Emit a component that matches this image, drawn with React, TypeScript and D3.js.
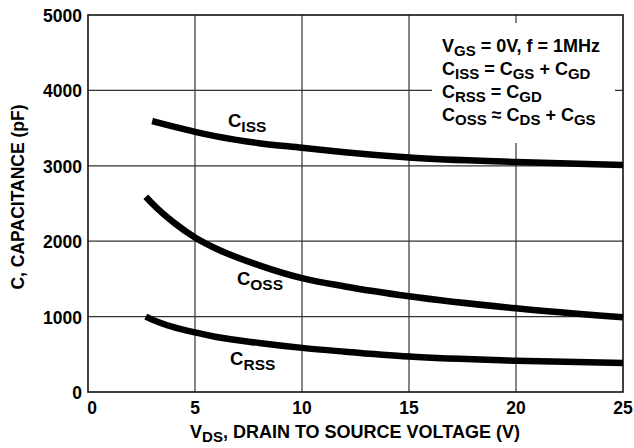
import { useEffect, useRef } from 'react';
import * as d3 from 'd3';

// V_DS (V) sample points
const vdsIss = [3, 4, 5, 6, 8, 10, 12, 15, 20, 25];
const ciss = [3594, 3520, 3450, 3390, 3300, 3240, 3180, 3110, 3050, 3010];

const vdsOss = [2.7, 3, 4, 5, 6, 8, 10, 12, 15, 20, 25];
const coss = [2590, 2500, 2250, 2050, 1900, 1680, 1510, 1400, 1270, 1110, 990];

const vdsRss = [2.7, 3, 4, 5, 6, 8, 10, 12, 15, 20, 25];
const crss = [1000, 960, 860, 790, 730, 650, 585, 535, 470, 415, 385];

const xTicks = [0, 5, 10, 15, 20, 25];
const yTicks = [0, 1000, 2000, 3000, 4000, 5000];

const curveLabels = [
  { main: 'C', sub: 'ISS', x: 6.54, y: 3515 },
  { main: 'C', sub: 'OSS', x: 6.96, y: 1419 },
  { main: 'C', sub: 'RSS', x: 6.64, y: 358 },
];

// legend lines as [text, isSub] pieces
const legendLines: [string, boolean][][] = [
  [['V', false], ['GS', true], [' = 0V, f = 1MHz', false]],
  [['C', false], ['ISS', true], [' = C', false], ['GS', true], [' + C', false], ['GD', true]],
  [['C', false], ['RSS', true], [' = C', false], ['GD', true]],
  [['C', false], ['OSS', true], [' \u2248 C', false], ['DS', true], [' + C', false], ['GS', true]],
];

const App = () => {
  const svgRef = useRef<SVGSVGElement>(null);

  useEffect(() => {
    const svg = d3.select(svgRef.current);
    svg.selectAll('*').remove();

    const left = 88, right = 623, top = 15, bottom = 392;
    const font = '"Liberation Sans", Arial, Helvetica, sans-serif';

    const x = d3.scaleLinear().domain([0, 25]).range([left, right]);
    const y = d3.scaleLinear().domain([0, 5000]).range([bottom, top]);

    // grid
    svg.append('g')
      .selectAll('line.v')
      .data(xTicks.slice(1, -1))
      .enter().append('line')
      .attr('x1', d => x(d)).attr('x2', d => x(d))
      .attr('y1', top).attr('y2', bottom)
      .attr('stroke', '#333').attr('stroke-width', 1.2);
    svg.append('g')
      .selectAll('line.h')
      .data(yTicks.slice(1, -1))
      .enter().append('line')
      .attr('y1', d => y(d)).attr('y2', d => y(d))
      .attr('x1', left).attr('x2', right)
      .attr('stroke', '#333').attr('stroke-width', 1.2);

    // legend background covering grid
    svg.append('rect')
      .attr('x', 432).attr('y', 23).attr('width', 183).attr('height', 120)
      .attr('fill', '#fff');

    // frame
    svg.append('rect')
      .attr('x', left).attr('y', top)
      .attr('width', right - left).attr('height', bottom - top)
      .attr('fill', 'none').attr('stroke', '#111').attr('stroke-width', 1.6);

    // tick labels
    svg.append('g')
      .selectAll('text')
      .data(xTicks)
      .enter().append('text')
      .attr('x', d => x(d) + (d === 0 ? 4 : 0)).attr('y', 414)
      .attr('text-anchor', 'middle')
      .attr('font-family', font).attr('font-weight', 'bold').attr('font-size', 17.5)
      .text(d => d);
    svg.append('g')
      .selectAll('text')
      .data(yTicks)
      .enter().append('text')
      .attr('x', left - 6).attr('y', d => y(d) + 7)
      .attr('text-anchor', 'end')
      .attr('font-family', font).attr('font-weight', 'bold').attr('font-size', 17.5)
      .text(d => d);

    // axis titles
    const xt = svg.append('text')
      .attr('x', 355).attr('y', 438)
      .attr('text-anchor', 'middle')
      .attr('font-family', font).attr('font-weight', 'bold').attr('font-size', 18);
    xt.append('tspan').text('V');
    xt.append('tspan').attr('dy', 4).attr('font-size', 15).text('DS');
    xt.append('tspan').attr('dy', -4).text(', DRAIN TO SOURCE VOLTAGE (V)');

    svg.append('text')
      .attr('transform', `translate(24,197) rotate(-90)`)
      .attr('text-anchor', 'middle')
      .attr('font-family', font).attr('font-weight', 'bold').attr('font-size', 17.5)
      .text('C, CAPACITANCE (pF)');

    // curves
    const line = d3.line<[number, number]>()
      .x(d => x(d[0])).y(d => y(d[1]))
      .curve(d3.curveMonotoneX);
    const series: [number[], number[]][] = [[vdsIss, ciss], [vdsOss, coss], [vdsRss, crss]];
    series.forEach(([xs, ys]) => {
      svg.append('path')
        .datum(xs.map((v, i) => [v, ys[i]] as [number, number]))
        .attr('d', line)
        .attr('fill', 'none').attr('stroke', '#000').attr('stroke-width', 6.5);
    });

    // curve labels
    curveLabels.forEach(l => {
      const t = svg.append('text')
        .attr('x', x(l.x)).attr('y', y(l.y))
        .attr('font-family', font).attr('font-weight', 'bold').attr('font-size', 18.5);
      t.append('tspan').text(l.main);
      t.append('tspan').attr('dy', 5).attr('font-size', 15.5).text(l.sub);
    });

    // legend text
    legendLines.forEach((parts, i) => {
      const t = svg.append('text')
        .attr('x', 442).attr('y', 52 + i * 23)
        .attr('font-family', font).attr('font-weight', 'bold').attr('font-size', 18);
      let shifted = false;
      parts.forEach(([txt, sub]) => {
        const ts = t.append('tspan').text(txt);
        if (sub && !shifted) { ts.attr('dy', 4).attr('font-size', 15); shifted = true; }
        else if (sub) ts.attr('font-size', 15);
        else if (!sub && shifted) { ts.attr('dy', -4); shifted = false; }
      });
    });
  }, []);

  return (
    <svg ref={svgRef} width={634} height={448}
      style={{ position: 'absolute', left: 0, top: 0, background: '#fff' }} />
  );
};

export default App;
